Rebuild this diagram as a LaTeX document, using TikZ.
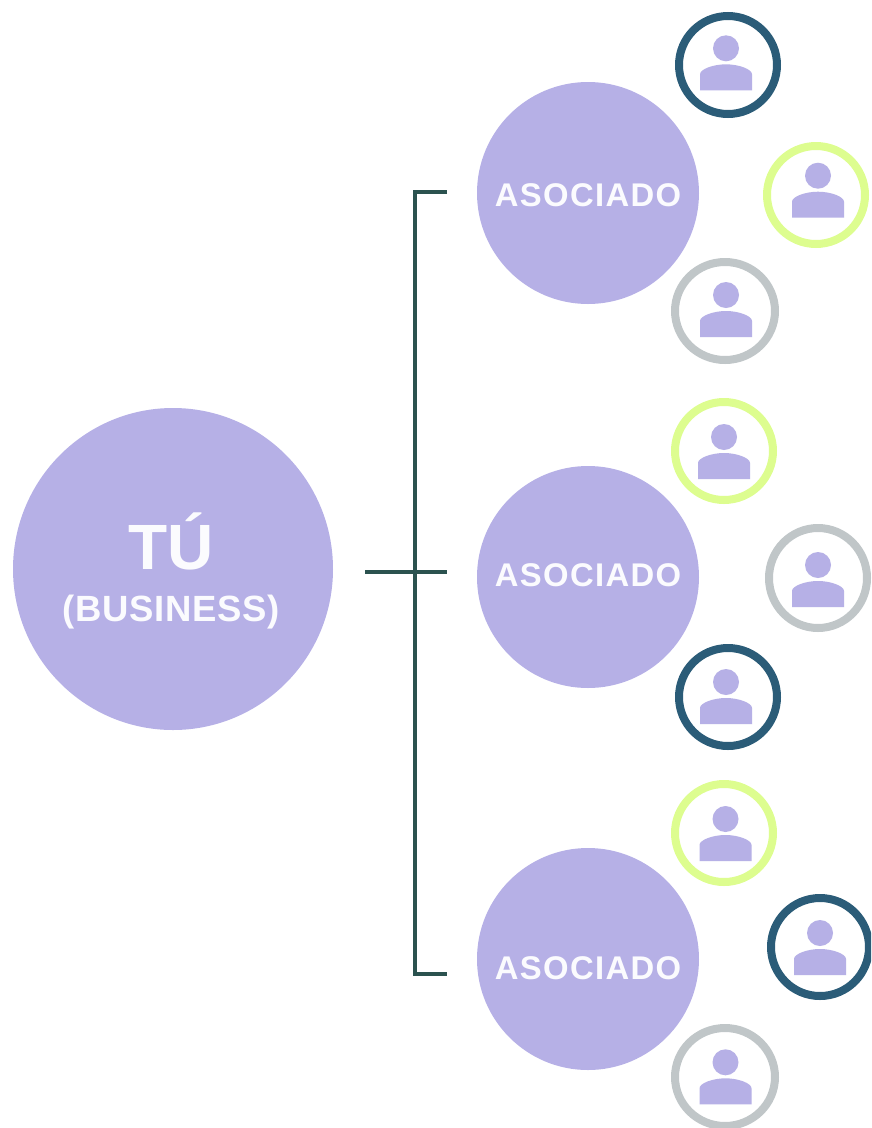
\documentclass[tikz,border=0pt]{standalone}
\usepackage{fontspec}
\usetikzlibrary{shapes.geometric}
\setmainfont{Liberation Sans}
\newfontfamily\trackA[LetterSpace=4.2]{Liberation Sans}
\newfontfamily\trackB[LetterSpace=1.8]{Liberation Sans}
\definecolor{lav}{HTML}{B6B0E6}
\definecolor{dk}{HTML}{2B5C78}
\definecolor{gn}{HTML}{DDFD8F}
\definecolor{gy}{HTML}{C0C6C8}
\definecolor{br}{HTML}{2B524F}
\definecolor{tx}{HTML}{FBFBFE}
\tikzset{
  big/.style={ellipse,fill=lav,inner sep=0pt,minimum width=#1,minimum height=#1},
  lab/.style={anchor=base,text=tx},
  ringw/.style={ellipse,draw=#1,line width=8pt,fill=white,inner sep=0pt,minimum width=98pt,minimum height=98pt},
  brk/.style={draw=br,line width=4pt},
}
\newcommand{\person}[2]{%
  \fill[lav] (#1,#2) circle[radius=13];
  \fill[lav] (#1-26,#2+42) -- (#1-26,#2+26)
     .. controls (#1-26,#2+21) and (#1-13,#2+16) .. (#1,#2+16)
     .. controls (#1+13,#2+16) and (#1+26,#2+21) .. (#1+26,#2+26)
     -- (#1+26,#2+42) -- cycle;
}
\begin{document}
\begin{tikzpicture}[x=1pt,y=-1pt]
\useasboundingbox (0,0) rectangle (871,1128);
\clip (0,0) rectangle (871,1128);
\node[big=320pt,minimum height=322pt] (tu) at (173,569) {};
\node[lab,font=\bfseries\fontsize{64}{64}\selectfont] (tutxt) at (171,569) {TÚ};
\node[lab,font=\trackB\bfseries\fontsize{36.5}{36.5}\selectfont] (bus) at (171,621.7) {(BUSINESS)};
\node[big=222pt] (a1) at (588,193) {};
\node[big=222pt] (a2) at (588,577) {};
\node[big=222pt] (a3) at (588,959) {};
\node[lab,font=\trackA\bfseries\fontsize{32.8}{32.8}\selectfont] (l1) at (588,206.7) {ASOCIADO};
\node[lab,font=\trackA\bfseries\fontsize{32.8}{32.8}\selectfont] (l2) at (588,586.7) {ASOCIADO};
\node[lab,font=\trackA\bfseries\fontsize{32.8}{32.8}\selectfont] (l3) at (588,979.7) {ASOCIADO};
\coordinate (t0) at (365,571.5);
\coordinate (t1) at (447,191.5);
\coordinate (t2) at (447,571.5);
\coordinate (t3) at (447,973.5);
\draw[brk] (t1) -- (415,191.5) -- (415,973.5) -- (t3);
\draw[brk] (t0) -- (t2);
\node[ringw=dk] (r1) at (728,65) {};
\node[ringw=gn] (r2) at (816,195) {};
\node[ringw=gy,minimum width=100pt] (r3) at (725,311) {};
\node[ringw=gn] (r4) at (724,451) {};
\node[ringw=gy,minimum height=100pt] (r5) at (818,578) {};
\node[ringw=dk] (r6) at (728,697) {};
\node[ringw=gn] (r7) at (724,833) {};
\node[ringw=dk] (r8) at (820,947) {};
\node[ringw=gy,minimum width=100pt] (r9) at (725,1077) {};
\person{726}{48.3}
\person{818}{175.7}
\person{726}{295}
\person{724}{437}
\person{818}{565}
\person{726}{682}
\person{725.5}{819}
\person{820}{933}
\person{725.5}{1062.3}
\end{tikzpicture}
\end{document}
